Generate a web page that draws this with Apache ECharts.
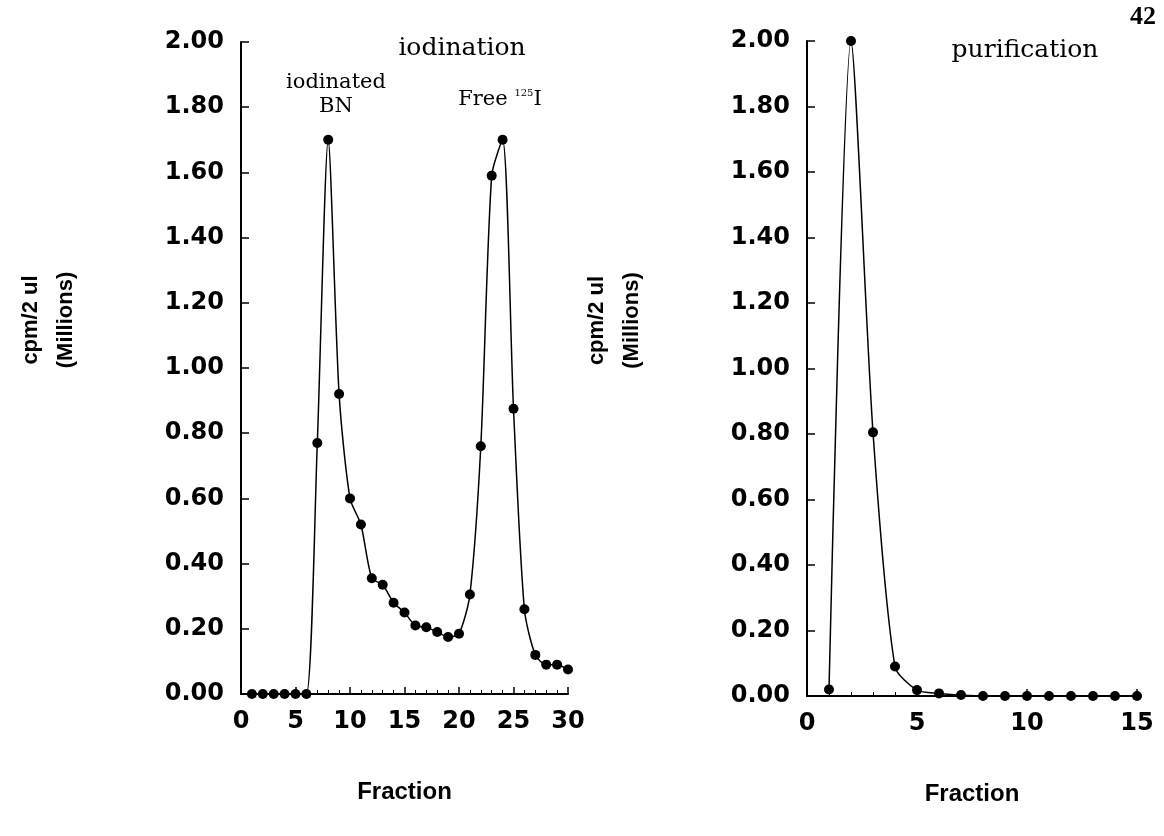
<!DOCTYPE html>
<html>
<head>
<meta charset="utf-8">
<script src="https://cdn.jsdelivr.net/npm/echarts@6/dist/echarts.min.js"></script>
<style>
  html, body { margin: 0; padding: 0; background: #fff; }
  #container { width: 1164px; height: 836px; }
</style>
</head>
<body>
<div id="container"></div>
<script>
// iodination column: fractions 1..30
let iodFraction = [1, 2, 3, 4, 5, 6, 7, 8, 9, 10, 11, 12, 13, 14, 15, 16, 17, 18, 19, 20, 21, 22, 23, 24, 25, 26, 27, 28, 29, 30]
let iodCpm = [0, 0, 0, 0, 0, 0, 0.77, 1.70, 0.92, 0.60, 0.52, 0.355, 0.335, 0.28, 0.25, 0.21, 0.205, 0.19, 0.175, 0.185, 0.305, 0.76, 1.59, 1.70, 0.875, 0.26, 0.12, 0.09, 0.09, 0.075]

// purification column: fractions 1..15
let purFraction = [1, 2, 3, 4, 5, 6, 7, 8, 9, 10, 11, 12, 13, 14, 15]
let purCpm = [0.02, 2.00, 0.805, 0.09, 0.018, 0.008, 0.003, 0, 0, 0, 0, 0, 0, 0, 0]

function pairs(xs, ys) {
    let out = []
    for (let i = 0; i < xs.length; i++) {
        out.push([xs[i], ys[i]])
    }
    return out
}

let tickFont = {
    fontFamily: 'DejaVu Sans',
    fontWeight: 'bold',
    fontSize: 24,
    color: '#000'
}

function makeX(idx, max) {
    return {
        type: 'value',
        gridIndex: idx,
        min: 0,
        max: max,
        interval: 5,
        name: 'Fraction',
        nameLocation: 'middle',
        nameGap: 86,
        nameTextStyle: {fontFamily: 'Liberation Sans', fontWeight: 'bold', fontSize: 24, color: '#000'},
        axisLine: {lineStyle: {color: '#000', width: 2}},
        axisTick: {inside: true, length: 7, lineStyle: {color: '#000', width: 1.5}},
        minorTick: {show: true, splitNumber: 5, length: 4, lineStyle: {color: '#000', width: 1}},
        axisLabel: Object.assign({margin: 16}, tickFont),
        splitLine: {show: false}
    }
}

function makeY(idx) {
    return {
        type: 'value',
        gridIndex: idx,
        min: 0,
        max: 2,
        interval: 0.2,
        name: 'cpm/2 ul\n(Millions)',
        nameLocation: 'middle',
        nameRotate: 90,
        nameGap: 158,
        // left padding lifts the rotated name above the axis middle
        nameTextStyle: {fontFamily: 'Liberation Sans', fontWeight: 'bold', fontSize: 22, lineHeight: 35, color: '#000', padding: [0, 0, 0, 96]},
        axisLine: {show: true, lineStyle: {color: '#000', width: 2}},
        axisTick: {show: true, inside: true, length: 8, lineStyle: {color: '#000', width: 1.5}},
        axisLabel: Object.assign({margin: 17, formatter: function (v) { return v.toFixed(2) }}, tickFont),
        splitLine: {show: false}
    }
}

function makeSeries(idx, data) {
    return {
        type: 'line',
        xAxisIndex: idx,
        yAxisIndex: idx,
        data: data,
        smooth: 0.25,
        symbol: 'circle',
        symbolSize: 10,
        itemStyle: {color: '#000'},
        lineStyle: {color: '#000', width: 1.5},
        z: 3
    }
}

let serifText = function (text, x, y, size) {
    return {
        type: 'text',
        x: x,
        y: y,
        style: {
            text: text,
            fontFamily: 'DejaVu Serif',
            fontSize: size,
            fill: '#000',
            align: 'center',
            verticalAlign: 'middle'
        }
    }
}

let option = {
    animation: false,
    backgroundColor: '#fff',
    grid: [
        {left: 241, top: 42, width: 327, height: 652},
        {left: 807, top: 41, width: 330, height: 655}
    ],
    xAxis: [makeX(0, 30), makeX(1, 15)],
    yAxis: [makeY(0), makeY(1)],
    series: [
        makeSeries(0, pairs(iodFraction, iodCpm)),
        makeSeries(1, pairs(purFraction, purCpm))
    ],
    graphic: [
        serifText('iodination', 462, 48, 25),
        serifText('iodinated', 336, 83, 21),
        serifText('BN', 336, 107, 21),
        {
            type: 'text',
            x: 500,
            y: 100,
            style: {
                text: '{a|Free }{s|125}{a|I}',
                align: 'center',
                verticalAlign: 'middle',
                rich: {
                    a: {fontFamily: 'DejaVu Serif', fontSize: 21, fill: '#000', lineHeight: 24},
                    s: {fontFamily: 'DejaVu Serif', fontSize: 10, fill: '#000', verticalAlign: 'top', lineHeight: 24}
                }
            }
        },
        serifText('purification', 1025, 50, 25),
        {
            type: 'text',
            x: 1143,
            y: 17,
            style: {
                text: '42',
                fontFamily: 'Liberation Serif',
                fontWeight: 'bold',
                fontSize: 26,
                fill: '#000',
                align: 'center',
                verticalAlign: 'middle'
            }
        }
    ]
}

let myChart = echarts.init(document.getElementById('container'))
myChart.setOption(option)
</script>
</body>
</html>
